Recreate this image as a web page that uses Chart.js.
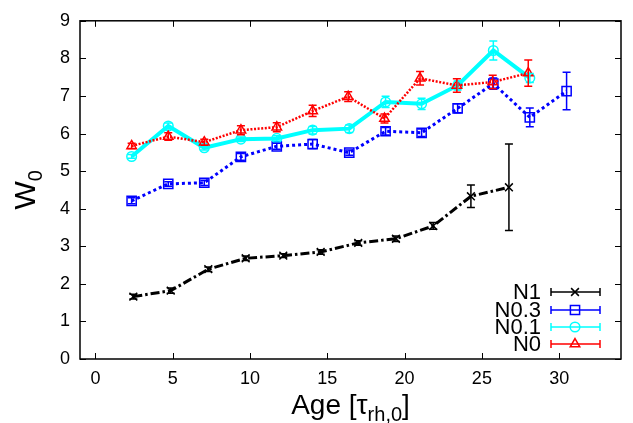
<!DOCTYPE html>
<html>
<head>
<meta charset="utf-8">
<script src="https://cdn.jsdelivr.net/npm/chart.js@4/dist/chart.umd.min.js"></script>
<style>
  html, body { margin: 0; padding: 0; background: #fff; }
  canvas { display: block; }
</style>
</head>
<body>
<canvas id="w0Chart" width="633" height="423"></canvas>
<script>
"use strict";

// values
const seriesNames = ["N1", "N0.3", "N0.1", "N0"];
const seriesColors = ["#000000", "#0000ff", "#00ffff", "#ff0000"];

const n1Age = [2.45, 4.87, 7.30, 9.72, 12.15, 14.57, 17.0, 19.44, 21.85, 24.29, 26.75];
const n1W = [1.66, 1.82, 2.39, 2.68, 2.75, 2.85, 3.09, 3.20, 3.54, 4.33, 4.57];
const n1Err = [0.06, 0.07, 0.06, 0.06, 0.05, 0.06, 0.06, 0.07, 0.09, 0.30, 1.15];

const n03Age = [2.34, 4.71, 7.04, 9.41, 11.73, 14.05, 16.42, 18.77, 21.1, 23.43, 25.74, 28.1, 30.48];
const n03W = [4.21, 4.66, 4.69, 5.38, 5.66, 5.72, 5.49, 6.06, 6.02, 6.67, 7.33, 6.43, 7.13];
const n03Err = [0.08, 0.06, 0.07, 0.09, 0.08, 0.12, 0.07, 0.10, 0.10, 0.12, 0.15, 0.25, 0.50];

const n01Age = [2.34, 4.71, 7.04, 9.41, 11.73, 14.05, 16.42, 18.77, 21.1, 23.43, 25.74, 28.1];
const n01W = [5.39, 6.20, 5.62, 5.85, 5.87, 6.09, 6.13, 6.84, 6.79, 7.28, 8.21, 7.48];
const n01Err = [0.05, 0.08, 0.06, 0.06, 0.07, 0.10, 0.10, 0.15, 0.15, 0.12, 0.25, 0.12];

const n0Age = [2.34, 4.71, 7.04, 9.41, 11.73, 14.05, 16.35, 18.7, 21.0, 23.38, 25.7, 28.0];
const n0W = [5.67, 5.92, 5.77, 6.09, 6.17, 6.60, 6.98, 6.40, 7.47, 7.28, 7.37, 7.61];
const n0Err = [0.07, 0.10, 0.08, 0.12, 0.12, 0.15, 0.13, 0.12, 0.18, 0.18, 0.18, 0.35];

const xTicks = [0, 5, 10, 15, 20, 25, 30];
const yTicks = [0, 1, 2, 3, 4, 5, 6, 7, 8, 9];

const FONT = "'Liberation Sans', Arial, sans-serif";

function pts(xs, ys) {
  return xs.map((x, i) => ({ x: x, y: ys[i] }));
}

const errors = [n1Err, n03Err, n01Err, n0Err];
const styles = [
  { pointStyle: "crossRot", radius: 5.5, dash: [9, 3, 2.5, 3], width: 3 },
  { pointStyle: "rect", radius: 6.5, dash: [3, 3], width: 3 },
  { pointStyle: "circle", radius: 4.8, dash: [], width: 4 },
  { pointStyle: "triangle", radius: 5.5, dash: [2, 1.6], width: 2.5 },
];

const seriesData = [pts(n1Age, n1W), pts(n03Age, n03W), pts(n01Age, n01W), pts(n0Age, n0W)];

const datasets = seriesData.map((d, i) => ({
  label: seriesNames[i],
  data: d,
  borderColor: seriesColors[i],
  borderWidth: styles[i].width,
  borderDash: styles[i].dash,
  pointStyle: styles[i].pointStyle,
  pointRadius: styles[i].radius,
  pointBorderWidth: 1.5,
  pointBorderColor: seriesColors[i],
  pointBackgroundColor: "rgba(0,0,0,0)",
  tension: 0,
  fill: false,
  order: 3 - i,
}));

// gnuplot-ish frame, inward ticks, error bars, key and axis titles
const gnuplotLook = {
  id: "gnuplotLook",
  afterDatasetsDraw(chart) {
    const ctx = chart.ctx;
    const xs = chart.scales.x, ys = chart.scales.y;
    ctx.save();
    // error bars
    seriesData.forEach((d, i) => {
      ctx.strokeStyle = seriesColors[i];
      ctx.lineWidth = 1.5;
      d.forEach((p, k) => {
        const px = xs.getPixelForValue(p.x);
        const top = ys.getPixelForValue(p.y + errors[i][k]);
        const bot = ys.getPixelForValue(p.y - errors[i][k]);
        ctx.beginPath();
        ctx.moveTo(px, top); ctx.lineTo(px, bot);
        ctx.moveTo(px - 4, top); ctx.lineTo(px + 4, top);
        ctx.moveTo(px - 4, bot); ctx.lineTo(px + 4, bot);
        ctx.stroke();
      });
    });
    ctx.restore();
  },
  afterDraw(chart) {
    const ctx = chart.ctx;
    const a = chart.chartArea;
    const xs = chart.scales.x, ys = chart.scales.y;
    ctx.save();
    ctx.strokeStyle = "#000";
    ctx.lineWidth = 1.5;
    ctx.strokeRect(a.left, a.top, a.right - a.left, a.bottom - a.top);
    ctx.lineWidth = 1;
    ctx.beginPath();
    xTicks.forEach(v => {
      const px = Math.round(xs.getPixelForValue(v)) + 0.5;
      ctx.moveTo(px, a.bottom); ctx.lineTo(px, a.bottom - 6);
      ctx.moveTo(px, a.top); ctx.lineTo(px, a.top + 6);
    });
    yTicks.forEach(v => {
      const py = Math.round(ys.getPixelForValue(v)) + 0.5;
      ctx.moveTo(a.left, py); ctx.lineTo(a.left + 6, py);
      ctx.moveTo(a.right, py); ctx.lineTo(a.right - 6, py);
    });
    ctx.stroke();

    // key
    const rowY = [292, 310, 327, 344];
    ctx.font = "22px " + FONT;
    ctx.textAlign = "right";
    ctx.textBaseline = "middle";
    seriesNames.forEach((name, i) => {
      const y = rowY[i];
      ctx.fillStyle = "#000";
      ctx.fillText(name, 541, y + 1);
      ctx.strokeStyle = seriesColors[i];
      ctx.lineWidth = 1.5;
      ctx.beginPath();
      ctx.moveTo(551, y); ctx.lineTo(600, y);
      ctx.moveTo(551, y - 4); ctx.lineTo(551, y + 4);
      ctx.moveTo(600, y - 4); ctx.lineTo(600, y + 4);
      ctx.stroke();
      ctx.fillStyle = "rgba(0,0,0,0)";
      Chart.helpers.drawPoint(ctx, {
        pointStyle: styles[i].pointStyle,
        radius: styles[i].radius,
        borderWidth: 1.5,
        rotation: 0,
      }, 575, y);
    });

    // axis titles
    ctx.fillStyle = "#000";
    ctx.textBaseline = "alphabetic";
    ctx.textAlign = "left";
    const cx = (a.left + a.right) / 2;
    const mainT = "Age [τ", sub = "rh,0", endT = "]";
    ctx.font = "28px " + FONT;
    const w1 = ctx.measureText(mainT).width;
    const w3 = ctx.measureText(endT).width;
    ctx.font = "20px " + FONT;
    const w2 = ctx.measureText(sub).width;
    let x0 = cx - (w1 + w2 + w3) / 2;
    const base = 414;
    ctx.font = "28px " + FONT;
    ctx.fillText(mainT, x0, base);
    ctx.font = "20px " + FONT;
    ctx.fillText(sub, x0 + w1, base + 7);
    ctx.font = "28px " + FONT;
    ctx.fillText(endT, x0 + w1 + w2, base);

    ctx.translate(35, (a.top + a.bottom) / 2);
    ctx.rotate(-Math.PI / 2);
    ctx.font = "30px " + FONT;
    const wW = ctx.measureText("W").width;
    ctx.font = "20px " + FONT;
    const w0 = ctx.measureText("0").width;
    const sx = -(wW + w0) / 2;
    ctx.font = "30px " + FONT;
    ctx.fillText("W", sx, 0);
    ctx.font = "20px " + FONT;
    ctx.fillText("0", sx + wW, 7);
    ctx.restore();
  },
};

const config = {
  type: "line",
  data: { datasets: datasets },
  options: {
    responsive: false,
    animation: false,
    devicePixelRatio: 1,
    layout: { padding: { top: 8, right: 12, left: 0, bottom: 0 } },
    plugins: {
      legend: { display: false },
      tooltip: { enabled: false },
    },
    scales: {
      x: {
        type: "linear",
        min: -1,
        max: 34,
        afterFit: (s) => { s.height = 64; },
        afterBuildTicks: (s) => { s.ticks = xTicks.map(v => ({ value: v })); },
        grid: { display: false, drawTicks: false },
        border: { display: false },
        ticks: {
          padding: 9,
          color: "#000",
          font: { family: FONT, size: 18 },
          maxRotation: 0,
        },
      },
      y: {
        min: 0,
        max: 9,
        afterFit: (s) => { s.width = 80; },
        afterBuildTicks: (s) => { s.ticks = yTicks.map(v => ({ value: v })); },
        grid: { display: false, drawTicks: false },
        border: { display: false },
        ticks: {
          padding: 10,
          color: "#000",
          font: { family: FONT, size: 18 },
        },
      },
    },
  },
  plugins: [gnuplotLook],
};

const w0Chart = new Chart(document.getElementById("w0Chart"), config);
</script>
</body>
</html>
